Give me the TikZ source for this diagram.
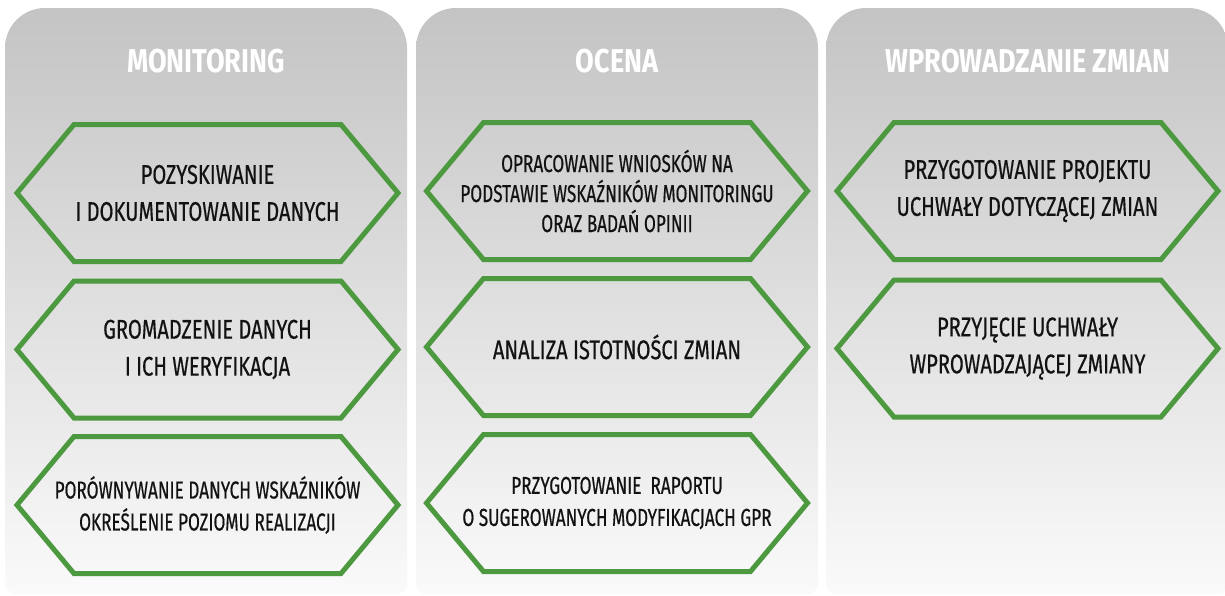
\documentclass[tikz,border=0pt]{standalone}
\usepackage{fontspec}
\newfontfamily\hexfontbig[FakeStretch=0.745,FakeBold=0.5]{Fira Sans}
\newfontfamily\hexfontsmall[FakeStretch=0.70,FakeBold=0.5]{Fira Sans}
\newfontfamily\headfont[FakeStretch=0.82]{Fira Sans}
\definecolor{bgtop}{RGB}{196,196,196}
\definecolor{bgbot}{RGB}{250,250,250}
\definecolor{hexgreen}{RGB}{76,153,64}
\definecolor{textcol}{RGB}{18,18,18}
\newcommand\mycolbg[1]{%
  \shade[colbg] (#1-201,400) [rounded corners=40] -- (#1-201,8) -- (#1+201,8) -- (#1+201,400) [rounded corners=10] -- (#1+201,594) -- (#1-201,594) -- cycle;}
\newcommand\hexbox[5]{%
  \node[hextext,#5] (#3) at (#1,#2) {#4};
  \draw[hexline] (#1-190.5,#2) -- (#1-133.5,#2-68.5) -- (#1+133.5,#2-68.5) -- (#1+190.5,#2) -- (#1+133.5,#2+68.5) -- (#1-133.5,#2+68.5) -- cycle;}
\begin{document}
\begin{tikzpicture}[x=1pt,y=-1pt,
  colbg/.style={top color=bgtop, bottom color=bgbot, draw=none},
  title/.style={text=white, font=\headfont\bfseries\fontsize{33}{33}\selectfont, inner sep=0pt},
  hexline/.style={draw=hexgreen, line width=5pt, line join=miter},
  hextext/.style={align=center, text=textcol, font=\hexfontbig\fontsize{27}{37}\selectfont, inner sep=0pt},
  small/.style={font=\hexfontsmall\fontsize{24.5}{32}\selectfont},
  tight/.style={font=\hexfontsmall\fontsize{24.5}{30}\selectfont},
]
\useasboundingbox (0,0) rectangle (1225,595);
\fill[white] (0,0) rectangle (1225,595);
\mycolbg{206}
\mycolbg{617}
\mycolbg{1027}
\node[title] (t1) at (206,61) {MONITORING};
\node[title] (t2) at (617,61) {OCENA};
\node[title] (t3) at (1028,61) {WPROWADZANIE ZMIAN};
\hexbox{207.5}{193}{m1}{POZYSKIWANIE\\I DOKUMENTOWANIE DANYCH}{}
\hexbox{207.5}{349.5}{m2}{GROMADZENIE DANYCH\\I ICH WERYFIKACJA}{}
\hexbox{207.5}{505}{m3}{PORÓWNYWANIE DANYCH WSKAŹNIKÓW\\OKREŚLENIE POZIOMU REALIZACJI}{small}
\hexbox{617}{191}{o1}{OPRACOWANIE WNIOSKÓW NA\\PODSTAWIE WSKAŹNIKÓW MONITORINGU\\ORAZ BADAŃ OPINII}{tight}
\hexbox{617}{347}{o2}{ANALIZA ISTOTNOŚCI ZMIAN}{}
\hexbox{617}{503}{o3}{PRZYGOTOWANIE\ \ RAPORTU\\O SUGEROWANYCH MODYFIKACJACH GPR}{small}
\hexbox{1027.5}{191}{w1}{PRZYGOTOWANIE PROJEKTU\\UCHWAŁY DOTYCZĄCEJ ZMIAN}{}
\hexbox{1027.5}{348.5}{w2}{PRZYJĘCIE UCHWAŁY\\WPROWADZAJĄCEJ ZMIANY}{}
\end{tikzpicture}
\end{document}
